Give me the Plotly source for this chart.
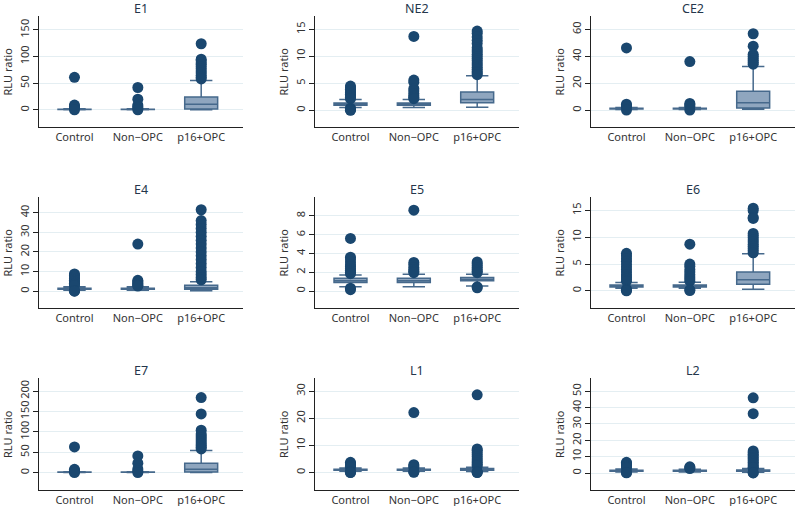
import plotly.graph_objects as go

groups = ["Control", "Non\u2212OPC", "p16+OPC"]
panels = ["E1", "NE2", "CE2", "E4", "E5", "E6", "E7", "L1", "L2"]
yticks = [[0, 50, 100, 150], [0, 5, 10, 15], [0, 20, 40, 60], [0, 10, 20, 30, 40],
          [0, 2, 4, 6, 8], [0, 5, 10, 15], [0, 50, 100, 150, 200], [0, 10, 20, 30],
          [0, 10, 20, 30, 40, 50]]

# box stats per group: [lower whisker, q1, median, q3, upper whisker]
E1_box = [[0.4, 0.9, 1.1, 1.4, 2.2], [0.4, 0.9, 1.1, 1.4, 2.2], [0.3, 1.5, 10.6, 24.3, 55]]
E1_out = [[61, 9, 6.5, 4, 0.1], [42, 20, 9, 6, 3.5, 0.1],
          [124, 95, 92, 88, 85, 81, 77, 73, 69, 65, 61, 58]]

NE2_box = [[0.5, 0.95, 1.1, 1.35, 2.0], [0.5, 0.95, 1.1, 1.35, 2.0], [0.56, 1.4, 2.0, 3.4, 6.4]]
NE2_out = [[4.5, 4.2, 3.9, 3.6, 3.3, 3.0, 2.7, 2.4, 2.15, 0.4, 0.25, 0.1, 0.0],
           [13.7, 5.6, 5.2, 4.0, 3.6, 3.1, 2.7, 2.4, 2.15],
           [14.7, 14.3, 13.6, 13.0, 12.4, 11.6, 11.2, 10.8, 10.4, 10.0, 9.6, 9.2, 8.8, 8.4, 8.0, 7.6, 7.2, 6.9, 6.6]]

CE2_box = [[0.5, 0.9, 1.1, 1.4, 2.0], [0.5, 0.9, 1.1, 1.4, 2.0], [0.7, 1.7, 5.6, 14.1, 32.4]]
CE2_out = [[46.3, 4.5, 3.5, 2.5, 0.1], [36.1, 5.0, 4.0, 3.0, 0.1],
           [56.8, 47.6, 41.5, 40.0, 38.5, 37.0, 35.5, 34.2]]

E4_box = [[0.5, 1.0, 1.2, 1.45, 2.2], [0.5, 1.0, 1.2, 1.45, 2.2], [0.2, 1.0, 1.7, 3.0, 4.8]]
E4_out = [[8.8, 8.0, 7.2, 6.4, 5.6, 4.8, 4.0, 3.4, 2.8, 0.3, 0.1, 0.0],
          [24.0, 5.5, 4.8, 4.2, 3.6, 3.0, 2.6],
          [41.5, 36.0, 34.0, 32.0, 30.0, 28.0, 26.0, 24.0, 22.0, 20.0, 18.0, 16.0, 14.0, 12.0, 10.0, 8.5, 7.0, 5.8]]

E5_box = [[0.46, 0.92, 1.1, 1.35, 1.7], [0.46, 0.92, 1.1, 1.35, 1.8], [0.53, 1.1, 1.24, 1.45, 1.8]]
E5_out = [[5.6, 3.6, 3.4, 3.1, 2.8, 2.6, 2.4, 2.2, 2.0, 1.85, 0.3, 0.15],
          [8.6, 3.05, 2.8, 2.5, 2.3, 2.1, 1.95],
          [3.1, 2.9, 2.7, 2.5, 2.3, 2.1, 1.95, 0.45, 0.35]]

E6_box = [[0.5, 0.7, 0.93, 1.1, 1.55], [0.5, 0.7, 0.93, 1.1, 1.6], [0.3, 1.24, 2.05, 3.5, 6.9]]
E6_out = [[7.0, 6.5, 6.0, 5.5, 5.0, 4.5, 4.0, 3.5, 3.0, 2.6, 2.2, 1.8, 0.3, 0.1, 0.0],
          [8.7, 5.0, 4.6, 4.0, 3.5, 3.0, 2.6, 2.2, 1.8, 0.2, 0.05],
          [15.4, 15.0, 13.7, 13.5, 10.7, 10.3, 9.9, 9.5, 9.1, 8.7, 8.3, 7.9, 7.5, 7.1]]

E7_box = [[0.4, 0.9, 1.1, 1.4, 2.2], [0.4, 0.9, 1.1, 1.4, 2.2], [0.3, 1.5, 8, 23, 54]]
E7_out = [[63, 8, 5, 3, 0.1], [41, 23, 9, 4, 0.1],
          [184, 144, 104, 95, 90, 85, 80, 75, 70, 66, 62, 58]]

L1_box = [[0.5, 0.85, 1.0, 1.25, 1.7], [0.5, 0.85, 1.0, 1.25, 1.7], [0.4, 0.9, 1.1, 1.5, 2.0]]
L1_out = [[3.8, 3.3, 2.8, 2.3, 1.9, 0.3, 0.1, 0.0],
          [22.1, 2.9, 2.4, 1.9, 0.3, 0.1],
          [28.6, 8.7, 8.2, 7.4, 6.6, 5.8, 5.0, 4.3, 3.6, 3.0, 2.4, 0.3, 0.1, 0.0]]

L2_box = [[0.6, 1.1, 1.4, 1.7, 2.5], [0.6, 1.1, 1.4, 1.7, 2.3], [0.5, 1.1, 1.4, 1.8, 2.8]]
L2_out = [[6.5, 5.8, 5.0, 4.3, 3.6, 3.0, 0.3, 0.1],
          [3.8, 3.2, 2.7],
          [46, 36.3, 13.5, 12.5, 11.5, 10.5, 9.5, 8.5, 7.5, 6.5, 5.5, 4.5, 3.5, 3.0, 0.2, 0.05]]

all_box = [E1_box, NE2_box, CE2_box, E4_box, E5_box, E6_box, E7_box, L1_box, L2_box]
all_out = [E1_out, NE2_out, CE2_out, E4_out, E5_out, E6_out, E7_out, L1_out, L2_out]

# layout (pixels / ranges)
W, H = 800, 506
col_px = [(39, 243), (315, 519), (591, 795)]
row_px = [(16, 127), (197, 308), (378, 490)]
y_ranges = [[-32, 176], [-3.1, 17.5], [-12.5, 70], [-8.6, 48], [-1.8, 10],
            [-3.2, 17.5], [-42.6, 232], [-6.4, 34.8], [-10.4, 58.1]]

NAVY = "#1a476f"
BOX_FILL = "#8fa6bf"
BOX_LINE = "#46698c"
FONT = "Noto Sans"

fig = go.Figure()
layout = dict(width=W, height=H, margin=dict(l=0, r=0, t=0, b=0),
              paper_bgcolor="white", plot_bgcolor="white", showlegend=False,
              font=dict(family=FONT, size=11, color="#333333"))
annotations = []

for i, name in enumerate(panels):
    r, c = divmod(i, 3)
    sfx = "" if i == 0 else str(i + 1)
    xa, ya = "x" + sfx, "y" + sfx
    x0, x1 = col_px[c]
    y0, y1 = row_px[r]
    layout["xaxis" + sfx] = dict(
        domain=[x0 / W, x1 / W], anchor=ya, range=[-0.56, 2.66],
        tickvals=[0, 1, 2], ticktext=groups, showgrid=False, zeroline=False,
        showline=True, linecolor="#222222", linewidth=1, ticks="",
        tickfont=dict(size=11, color="#333333"), fixedrange=True)
    layout["yaxis" + sfx] = dict(
        domain=[1 - y1 / H, 1 - y0 / H], anchor=xa, range=y_ranges[i],
        tickvals=yticks[i], ticktext=[str(v) for v in yticks[i]],
        showgrid=True, gridcolor="#e4eef2",
        gridwidth=1, zeroline=False, showline=True, linecolor="#222222",
        linewidth=1, ticks="outside", ticklen=5, tickcolor="#222222",
        tickangle=-90, tickfont=dict(size=11, color="#333333"), fixedrange=True)
    for g in range(3):
        lf, q1, med, q3, uf = all_box[i][g]
        fig.add_trace(go.Box(
            x=[g], q1=[q1], median=[med], q3=[q3], lowerfence=[lf], upperfence=[uf],
            width=0.52, whiskerwidth=0.68, fillcolor=BOX_FILL,
            line=dict(color=BOX_LINE, width=1.5), boxpoints=False,
            xaxis=xa, yaxis=ya, hoverinfo="skip"))
    for g in range(3):
        vals = all_out[i][g]
        fig.add_trace(go.Scatter(
            x=[g] * len(vals), y=vals, mode="markers",
            marker=dict(color=NAVY, size=11, line=dict(width=0)),
            xaxis=xa, yaxis=ya, hoverinfo="skip"))
    annotations.append(dict(
        text=name, xref="paper", yref="paper", x=(x0 + x1) / 2 / W,
        y=1 - (y0 - 8) / H, xanchor="center", yanchor="middle", showarrow=False,
        font=dict(size=12.5, color="#24364b", family=FONT)))
    annotations.append(dict(
        text="RLU ratio", xref="paper", yref="paper", x=(x0 - 32) / W,
        y=1 - ((y0 + y1) / 2) / H, xanchor="center", yanchor="middle",
        textangle=-90, showarrow=False,
        font=dict(size=11, color="#333333", family=FONT)))

layout["annotations"] = annotations
fig.update_layout(**layout)
fig.write_html("out.html", config={"displayModeBar": False},
               post_script="document.body.style.margin='0';document.body.style.overflow='hidden';")
